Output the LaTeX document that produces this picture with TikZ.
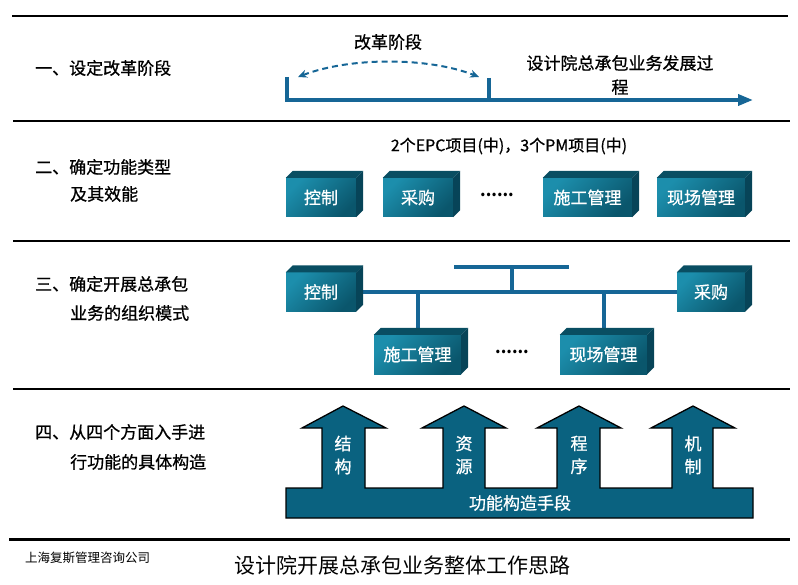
\documentclass[tikz,border=0pt]{standalone}
\usepackage{fontspec}
\setmainfont{Noto Sans CJK SC}
\newfontfamily\heavy{Noto Sans CJK SC}[FakeBold=0.8]
\usetikzlibrary{arrows.meta}
\definecolor{lineblue}{RGB}{22,102,150}
\definecolor{cubeL}{RGB}{28,142,172}
\definecolor{cubeD}{RGB}{10,86,108}
\definecolor{cubeTop}{RGB}{9,78,98}
\definecolor{cubeSide}{RGB}{7,68,88}
\definecolor{arrowfill}{RGB}{10,98,128}
\pgfdeclarelayer{bg}\pgfsetlayers{bg,main}
\newcommand\cubefaces[1]{%
  \fill[cubeTop] (#1.north west) -- ++(7,-7) -- ([shift={(7,-7)}]#1.north east) -- (#1.north east) -- cycle;
  \fill[cubeSide] (#1.north east) -- ++(7,-7) -- ([shift={(7,-7)}]#1.south east) -- (#1.south east) -- cycle;}
\tikzset{
  lbl/.style={anchor=west, inner sep=0pt, font=\heavy\fontsize{17}{17}\selectfont},
  cube/.style={minimum height=39pt, inner sep=0pt, text=white, font=\heavy\fontsize{17}{17}\selectfont,
    top color=cubeL, bottom color=cubeD, shading angle=45},
  sep/.style={line width=2pt, black},
  tline/.style={line width=3.5pt, lineblue},
  bus/.style={line width=4pt, lineblue},
  arrtxt/.style={text=white, align=center, inner sep=0pt, font=\heavy\fontsize{17}{23}\selectfont},
  dots/.style={inner sep=0pt, font=\fontsize{16}{16}\selectfont\bfseries}
}
\begin{document}
\begin{tikzpicture}[x=1pt,y=-1pt]
\useasboundingbox (0,0) rectangle (798,585);
% separators
\draw[line width=2.2pt] (12,16) -- (788,16);
\draw[sep] (13,121) -- (790,121);
\draw[sep] (13,241) -- (790,241);
\draw[sep] (13,389) -- (790,389);
\draw[line width=3pt] (9,539) -- (790,539);

% left labels
\node[lbl] (l1) at (35,68) {一、设定改革阶段};
\node[lbl] (l2a) at (35,167) {二、确定功能类型};
\node[lbl] (l2b) at (70,194) {及其效能};
\node[lbl] (l3a) at (35,284) {三、确定开展总承包};
\node[lbl] (l3b) at (70,313) {业务的组织模式};
\node[lbl] (l4a) at (35,432) {四、从四个方面入手进};
\node[lbl] (l4b) at (70,462) {行功能的具体构造};

% section 1 timeline
\coordinate (t0) at (287,77);
\coordinate (t1) at (287,100);
\coordinate (tend) at (753,100);
\coordinate (m0) at (489,78);
\coordinate (m1) at (489,100);
\draw[tline, -{Triangle[length=15pt,width=11pt]}] (t0) -- (t1) -- (tend);
\draw[tline] (m0) -- (m1);
\coordinate (d0) at (298,77);
\coordinate (d1) at (479,77);
\draw[lineblue, line width=2pt, dash pattern=on 6pt off 4pt, {Stealth[length=9pt,width=8pt]}-{Stealth[length=9pt,width=8pt]}]
  (d0) .. controls (350,57) and (428,57) .. (d1);
\node[inner sep=0pt, font=\heavy\fontsize{17}{17}\selectfont] (gg) at (388,42) {改革阶段};
\node[inner sep=0pt, align=center, font=\heavy\fontsize{17}{24}\selectfont] (proc) at (620,75) {设计院总承包业务发展过\\程};

% section 2
\node[inner sep=0pt, font=\heavy\fontsize{16}{16}\selectfont] (t2) at (509,146) {2个EPC项目(中)，3个PM项目(中)};
\node[cube, minimum width=70pt] (kz2) at (321,197.5) {控制};
\node[cube, minimum width=70pt] (cg2) at (418,197.5) {采购};
\node[cube, minimum width=89pt] (sg2) at (587.5,197.5) {施工管理};
\node[cube, minimum width=88pt] (xc2) at (701,197.5) {现场管理};
\foreach \n in {kz2,cg2,sg2,xc2} {\cubefaces{\n}}
\node[dots] (e2) at (497,195) {......};

% section 3
\node[cube, minimum width=70pt] (kz3) at (321,292) {控制};
\node[cube, minimum width=68pt] (cg3) at (711,292) {采购};
\node[cube, minimum width=87pt] (sg3) at (417.5,354.5) {施工管理};
\node[cube, minimum width=87pt] (xc3) at (603.5,354.5) {现场管理};
\foreach \n in {kz3,cg3,sg3,xc3} {\cubefaces{\n}}
\node[dots] (e3) at (512,352) {......};
\coordinate (tl) at (454,267);
\coordinate (tr) at (569,267);
\coordinate (tm) at (512,267);
\begin{pgfonlayer}{bg}
\draw[bus] (kz3.east) -- (cg3.west);
\draw[bus] (tl) -- (tr);
\draw[bus] (tm) -- (tm |- kz3.east);
\draw[bus] (sg3.north) -- (sg3.north |- kz3.east);
\draw[bus] (xc3.north) -- (xc3.north |- kz3.east);
\end{pgfonlayer}

% section 4
\draw[fill=arrowfill, draw=black, line width=1.3pt, line join=miter]
  (286,488) -- (322,488) -- (322,428) -- (302,428) -- (343,406) -- (386,428) -- (365,428) -- (365,488)
  -- (443,488) -- (443,428) -- (422,428) -- (464,406) -- (506,428) -- (485,428) -- (485,488)
  -- (557,488) -- (557,428) -- (537,428) -- (579,406) -- (621,428) -- (600,428) -- (600,488)
  -- (672,488) -- (672,428) -- (651,428) -- (693,406) -- (735,428) -- (713,428) -- (713,488)
  -- (753,488) -- (753,518) -- (286,518) -- cycle;
\node[arrtxt] (a1) at (343,455) {结\\构};
\node[arrtxt] (a2) at (464,455) {资\\源};
\node[arrtxt] (a3) at (579,455) {程\\序};
\node[arrtxt] (a4) at (693,455) {机\\制};
\node[arrtxt] (base) at (520,503) {功能构造手段};

% footer
\node[anchor=west, inner sep=0pt, font=\fontsize{12.5}{13}\selectfont] (co) at (25,558) {上海复斯管理咨询公司};
\node[inner sep=0pt, font=\fontsize{21}{21}\selectfont] (title) at (402,565) {设计院开展总承包业务整体工作思路};
\end{tikzpicture}
\end{document}
